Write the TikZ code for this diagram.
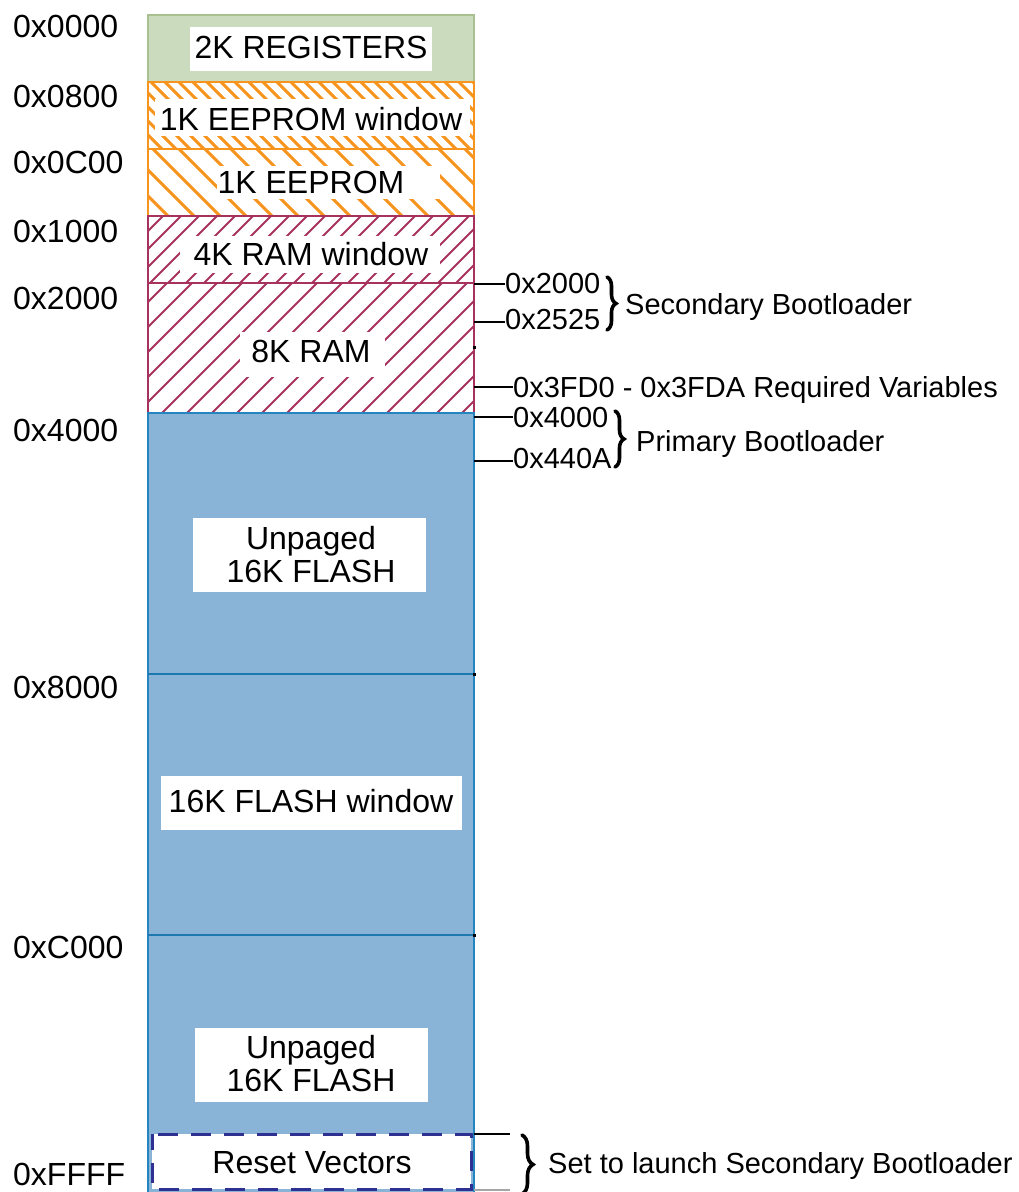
\documentclass[tikz,border=0pt]{standalone}
\usepackage{fontspec}
\setmainfont{Liberation Sans}
\usetikzlibrary{decorations.pathreplacing}
\definecolor{regfill}{HTML}{CBDBBE}
\definecolor{regline}{HTML}{A9C190}
\definecolor{eeorange}{HTML}{F7941D}
\definecolor{ramred}{HTML}{A8325E}
\definecolor{flashfill}{HTML}{8AB4D7}
\definecolor{flashline}{HTML}{2585BE}
\definecolor{flashdiv}{HTML}{1C78AE}
\definecolor{navy}{HTML}{2E3192}
\tikzset{
  boxtext/.style={font=\fontsize{32}{33}\selectfont, inner sep=0pt, anchor=base},
  addrtext/.style={font=\fontsize{32}{33}\selectfont, inner sep=0pt, anchor=base west},
  sidetext/.style={font=\fontsize{29}{30}\selectfont, inner sep=0pt, anchor=base west},
  tick/.style={black, line width=2.5pt},
  bracestyle/.style={decorate, decoration={brace, amplitude=9pt}, line width=3.6pt, black, line cap=round},
  whitebox/.style={fill=white, draw=none},
  eehatch/.style={eeorange, line width=3pt},
  ramhatch/.style={ramred, line width=2pt}
}
\begin{document}
\begin{tikzpicture}[x=1pt,y=-1pt]
\useasboundingbox (0,0) rectangle (1018,1192);

% ---------- fills ----------
\fill[regfill] (148,15) rectangle (474,82);
\fill[white] (148,82) rectangle (474,413);
\fill[flashfill] (148,413) rectangle (474,1194);

% ---------- hatching ----------
\begin{scope}
  \clip (148,82) rectangle (474,149);
  \foreach \i in {0,...,28} \draw[eehatch] ({81+\i*14},82) -- ++(67,67);
\end{scope}
\begin{scope}
  \clip (148,149) rectangle (474,216);
  \foreach \i in {0,...,16} \draw[eehatch] ({75+\i*26},149) -- ++(67,67);
\end{scope}
\begin{scope}
  \clip (148,216) rectangle (474,283);
  \foreach \i in {0,...,22} \draw[ramhatch] ({78+\i*18},283) -- ++(67,-67);
\end{scope}
\begin{scope}
  \clip (148,283) rectangle (474,413);
  \foreach \i in {0,...,20} \draw[ramhatch] ({12+\i*25},413) -- ++(130,-130);
\end{scope}

% ---------- white label backgrounds ----------
\fill[whitebox] (190,27) rectangle (432,71);
\fill[whitebox] (155,99) rectangle (470,136);
\fill[whitebox] (217,166) rectangle (440,199);
\fill[whitebox] (180,236) rectangle (440,273);
\fill[whitebox] (240,332) rectangle (385,377);
\fill[whitebox] (193,518) rectangle (426,592);
\fill[whitebox] (161,776) rectangle (462,830);
\fill[whitebox] (195,1028) rectangle (428,1102);

% ---------- section borders ----------
\draw[regline, line width=2pt] (148,15) rectangle (474,82);
\draw[eeorange, line width=2.5pt] (148,82) rectangle (474,149);
\draw[eeorange, line width=2.5pt] (148,149) rectangle (474,216);
\draw[ramred, line width=2pt] (148,216) rectangle (474,283);
\draw[ramred, line width=2pt] (148,283) rectangle (474,413);
\draw[flashline, line width=2.5pt] (148,1194) -- (148,413) -- (474,413) -- (474,1194);
\draw[flashdiv, line width=2.5pt] (148,674) -- (474,674);
\draw[flashdiv, line width=2.5pt] (148,935) -- (474,935);

% reset vectors
\draw[navy, line width=3pt, fill=white, dash pattern=on 20pt off 13pt, dash phase=4pt] (152,1134) rectangle (471,1189);

% small marks at the right edge
\fill[black] (473,345.5) rectangle (476,348.5);
\fill[black] (473,672.5) rectangle (476,675.5);
\fill[black] (473,933.5) rectangle (476,936.5);

% ---------- block texts ----------
\node[boxtext] (regs) at (311,58) {2K REGISTERS};
\node[boxtext] (eewin) at (311,130) {1K EEPROM window};
\node[boxtext] (ee) at (311,193) {1K EEPROM};
\node[boxtext] (ramwin) at (311,265) {4K RAM window};
\node[boxtext] (ram) at (311,362) {8K RAM};
\node[boxtext] (fl1a) at (311,549) {Unpaged};
\node[boxtext] (fl1b) at (311,582) {16K FLASH};
\node[boxtext] (flwin) at (311,812) {16K FLASH window};
\node[boxtext] (fl2a) at (311,1058) {Unpaged};
\node[boxtext] (fl2b) at (311,1091) {16K FLASH};
\node[boxtext] (reset) at (312,1173) {Reset Vectors};

% ---------- left addresses ----------
\node[addrtext] (a0000) at (13,37) {0x0000};
\node[addrtext] (a0800) at (13,107) {0x0800};
\node[addrtext] (a0C00) at (13,173) {0x0C00};
\node[addrtext] (a1000) at (13,242) {0x1000};
\node[addrtext] (a2000) at (13,309) {0x2000};
\node[addrtext] (a4000) at (13,441) {0x4000};
\node[addrtext] (a8000) at (13,698) {0x8000};
\node[addrtext] (aC000) at (13,958) {0xC000};
\node[addrtext] (aFFFF) at (13,1185) {0xFFFF};

% ---------- right annotations ----------
\node[sidetext] (s2000) at (505,293) {0x2000};
\node[sidetext] (s2525) at (505,329) {0x2525};
\node[sidetext] (sbl) at (625,314) {Secondary Bootloader};
\node[sidetext] (s3fd0) at (513,397) {0x3FD0 - 0x3FDA Required Variables};
\node[sidetext] (s4000) at (513,427) {0x4000};
\node[sidetext] (s440a) at (513,468) {0x440A};
\node[sidetext] (pbl) at (636,451) {Primary Bootloader};
\node[sidetext] (launch) at (548,1173) {Set to launch Secondary Bootloader};

\coordinate (t1) at (474,284);
\coordinate (t2) at (474,322);
\coordinate (t3) at (474,387);
\coordinate (t4) at (474,417);
\coordinate (t5) at (474,461);
\coordinate (t6) at (474,1134);
\coordinate (t7) at (474,1190);

\draw[tick] (t1) -- (t1 -| s2000.west);
\draw[tick] (t2) -- (t2 -| s2525.west);
\draw[tick] (t3) -- (t3 -| s3fd0.west);
\draw[tick] (t4) -- (t4 -| s4000.west);
\draw[tick] (t5) -- (t5 -| s440a.west);
\draw[tick] (t6) -- ++(36,0) coordinate (t6e);
\draw[gray!70, line width=1.5pt] (t7) -- ++(36,0) coordinate (t7e);

% braces
\coordinate (b1a) at (607,277);
\coordinate (b1b) at (607,330);
\coordinate (b2a) at (615,411);
\coordinate (b2b) at (615,467);
\coordinate (b3a) at (522,1135);
\coordinate (b3b) at (522,1194);
\draw[bracestyle] (b1a) -- (b1b);
\draw[bracestyle] (b2a) -- (b2b);
\draw[bracestyle, decoration={brace, amplitude=11pt}] (b3a) -- (b3b);
\end{tikzpicture}
\end{document}
